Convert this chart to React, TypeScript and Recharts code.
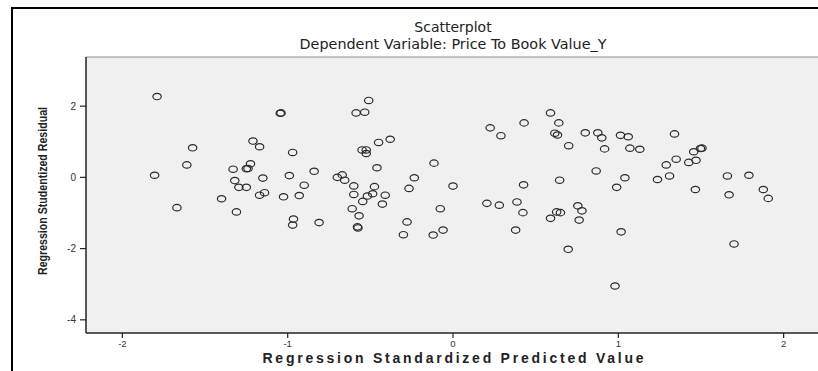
import React from 'react';
import { ScatterChart, Scatter, XAxis, YAxis, CartesianGrid, ReferenceLine } from 'recharts';

const predictedValues: number[] = [
  -1.79, -1.045, -1.04, -1.21, -1.17, -1.575, -0.97, -1.61, -1.225, -1.25,
  -1.24, -1.33, -1.805, -1.15, -0.99, -1.32, -1.295, -1.25, -0.9, -1.17,
  -1.14, -1.025, -0.93, -1.4, -1.67, -1.31, -0.965, -0.97,
  -0.51, -0.586, -0.534, 0.225, 0.29, 0.43, 0.59, -0.38, -0.45, -0.55,
  -0.525, -0.525, -0.46, -0.115, -0.84, -0.7, -0.67, -0.655, -0.234, -0.6,
  -0.475, -0.266, 0.0, 0.427, -0.6, -0.518, -0.486, -0.41, -0.546, -0.427,
  -0.61, -0.568, -0.578, -0.575, -0.81, -0.077, -0.278, -0.3, -0.12, -0.06,
  0.205, 0.28, 0.387, 0.423, 0.379, 0.59,
  0.64, 0.616, 0.632, 0.7, 0.8, 0.876, 0.9, 0.917, 1.013, 1.06,
  1.07, 1.13, 1.34, 1.456, 1.506, 1.497, 1.35, 1.29, 1.426, 1.47,
  0.866, 0.645, 1.04, 0.99, 1.237, 1.31, 1.66, 1.79, 1.466, 1.877,
  1.67, 1.907, 0.755, 0.78, 0.627, 0.65, 0.763, 1.017, 0.697, 1.7, 0.98,
];

const residualValues: number[] = [
  2.27, 1.8, 1.81, 1.02, 0.86, 0.83, 0.7, 0.35, 0.38, 0.24,
  0.25, 0.23, 0.06, -0.02, 0.05, -0.09, -0.28, -0.28, -0.22, -0.5,
  -0.43, -0.545, -0.51, -0.6, -0.85, -0.97, -1.17, -1.34,
  2.16, 1.81, 1.83, 1.39, 1.17, 1.53, 1.81, 1.07, 0.98, 0.77,
  0.77, 0.67, 0.27, 0.4, 0.17, 0.0, 0.07, -0.08, -0.01, -0.24,
  -0.26, -0.31, -0.245, -0.21, -0.48, -0.525, -0.46, -0.5, -0.675, -0.75,
  -0.88, -1.08, -1.39, -1.42, -1.27, -0.88, -1.25, -1.61, -1.62, -1.48,
  -0.73, -0.78, -0.69, -0.99, -1.48, -1.15,
  1.53, 1.24, 1.19, 0.89, 1.25, 1.25, 1.11, 0.8, 1.18, 1.14,
  0.82, 0.79, 1.22, 0.72, 0.82, 0.81, 0.51, 0.35, 0.42, 0.48,
  0.18, -0.08, -0.01, -0.28, -0.06, 0.04, 0.04, 0.06, -0.34, -0.34,
  -0.49, -0.59, -0.8, -0.94, -0.97, -0.99, -1.2, -1.53, -2.02, -1.87, -3.05,
];

const xTicks: number[] = [-2, -1, 0, 1, 2];
const yTicks: number[] = [-4, -2, 0, 2];

const chartTitle = 'Scatterplot';
const chartSubtitle = 'Dependent Variable: Price To Book Value_Y';
const xLabel = 'Regression Standardized Predicted Value';
const yLabel = 'Regression Studentized Residual';

const data = predictedValues.map((x, i) => ({ x, y: residualValues[i] }));

const RingShape = (props: any) => {
  const { cx, cy } = props;
  if (cx == null || cy == null) return null;
  return <ellipse cx={cx} cy={cy} rx={4.2} ry={3.2} fill="none" stroke="#2a2a2a" strokeWidth={1.2} />;
};

export default function App() {
  return (
    <div style={{ position: 'absolute', left: 0, top: 0, width: 818, height: 371, overflow: 'hidden', background: '#fff' }}>
      <div style={{ position: 'absolute', left: 11, top: 7, width: 830, height: 400, borderTop: '2px solid #000', borderLeft: '2px solid #000', boxSizing: 'border-box' }} />
      <div style={{ position: 'absolute', left: 0, top: 0 }}>
        <ScatterChart width={830} height={371} margin={{ top: 57, right: 10, bottom: 18, left: 56 }}>
          <CartesianGrid fill="#f0f0f0" horizontal={false} vertical={false} />
          <XAxis
            type="number"
            dataKey="x"
            domain={[-2.22, 2.22]}
            ticks={xTicks}
            height={20}
            axisLine={{ stroke: '#222', strokeWidth: 1.5 }}
            tickLine={{ stroke: '#222', strokeWidth: 1.2 }}
            tickSize={5}
            tickMargin={2}
            tick={{ fontSize: 9.5, fill: '#333', fontFamily: 'Liberation Sans, Arial, sans-serif' }}
          />
          <YAxis
            type="number"
            dataKey="y"
            domain={[-4.37, 3.38]}
            ticks={yTicks}
            width={30}
            axisLine={{ stroke: '#222', strokeWidth: 1.5 }}
            tickLine={{ stroke: '#222', strokeWidth: 1.2 }}
            tickSize={6}
            tickMargin={4}
            tick={{ fontSize: 10, fill: '#333', fontFamily: 'Liberation Sans, Arial, sans-serif' }}
          />
          <ReferenceLine y={3.38} stroke="#8a8a8a" strokeWidth={1} />
          <Scatter data={data} shape={RingShape} isAnimationActive={false} />
        </ScatterChart>
      </div>
      <svg width={818} height={371} style={{ position: 'absolute', left: 0, top: 0, pointerEvents: 'none' }}>
        <text x={453} y={32} textAnchor="middle" fontFamily="DejaVu Sans, Verdana, sans-serif" fontSize={14} fill="#222">{chartTitle}</text>
        <text x={453} y={49} textAnchor="middle" fontFamily="DejaVu Sans, Verdana, sans-serif" fontSize={14} fill="#222" textLength={307} lengthAdjust="spacingAndGlyphs">{chartSubtitle}</text>
        <text x={453} y={363} textAnchor="middle" fontFamily="Liberation Sans, Arial, sans-serif" fontWeight="bold" fontSize={14} fill="#222" textLength={381} lengthAdjust="spacing">{xLabel}</text>
        <text x={0} y={0} transform="translate(47,191) rotate(-90)" textAnchor="middle" fontFamily="Liberation Sans Narrow, Arial Narrow, Liberation Sans, sans-serif" fontWeight="bold" fontSize={12.5} fill="#222" textLength={168} lengthAdjust="spacingAndGlyphs">{yLabel}</text>
      </svg>
    </div>
  );
}
